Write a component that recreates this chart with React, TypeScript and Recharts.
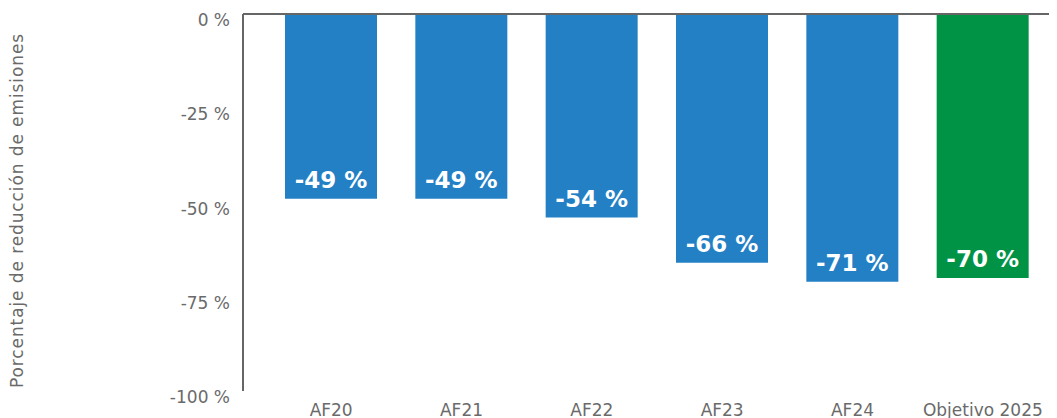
import { BarChart, Bar, XAxis, YAxis, Cell, LabelList, ReferenceLine } from 'recharts';

const categories = ['AF20', 'AF21', 'AF22', 'AF23', 'AF24', 'Objetivo 2025'];
const reductions = [-49, -49, -54, -66, -71, -70];
const barColors = ['#2480C5', '#2480C5', '#2480C5', '#2480C5', '#2480C5', '#009346'];
const yTicks = [0, -25, -50, -75, -100];

const data = categories.map((name, i) => ({ name, value: reductions[i] }));

const FONT = '"DejaVu Sans", sans-serif';
const TEXT_GRAY = '#6a6a6a';

export default function App() {
  return (
    <BarChart
      width={1049}
      height={410}
      data={data}
      margin={{ top: 6, right: 0, bottom: 0, left: 0 }}
    >
      <XAxis
        dataKey="name"
        axisLine={false}
        tickLine={false}
        height={27}
        padding={{ left: 23, right: 9 }}
        tick={{ fill: TEXT_GRAY, fontSize: 17, fontFamily: FONT, dy: 5 }}
        interval={0}
      />
      <YAxis
        type="number"
        domain={[-100, 0]}
        ticks={yTicks}
        interval={0}
        width={235}
        tickLine={false}
        axisLine={{ stroke: '#666', strokeWidth: 2 }}
        tickFormatter={(v: number) => `${v} %`}
        tickMargin={7}
        tick={{ fill: TEXT_GRAY, fontSize: 17, fontFamily: FONT, dy: 6 }}
        label={{
          value: 'Porcentaje de reducción de emisiones',
          angle: -90,
          position: 'insideLeft',
          offset: 9,
          dy: 8,
          style: {
            textAnchor: 'middle',
            fill: TEXT_GRAY,
            fontSize: 17,
            fontFamily: FONT,
            letterSpacing: 0.9,
          },
        }}
      />
      <ReferenceLine y={0} stroke="#666" strokeWidth={2} />
      <Bar dataKey="value" barSize={92} isAnimationActive={false}>
        {data.map((d, i) => (
          <Cell key={d.name} fill={barColors[i]} />
        ))}
        <LabelList
          dataKey="value"
          position="insideTop"
          offset={11}
          formatter={(v: number) => `${v} %`}
          style={{ fill: '#fff', fontSize: 23, fontWeight: 700, fontFamily: FONT }}
        />
      </Bar>
    </BarChart>
  );
}
